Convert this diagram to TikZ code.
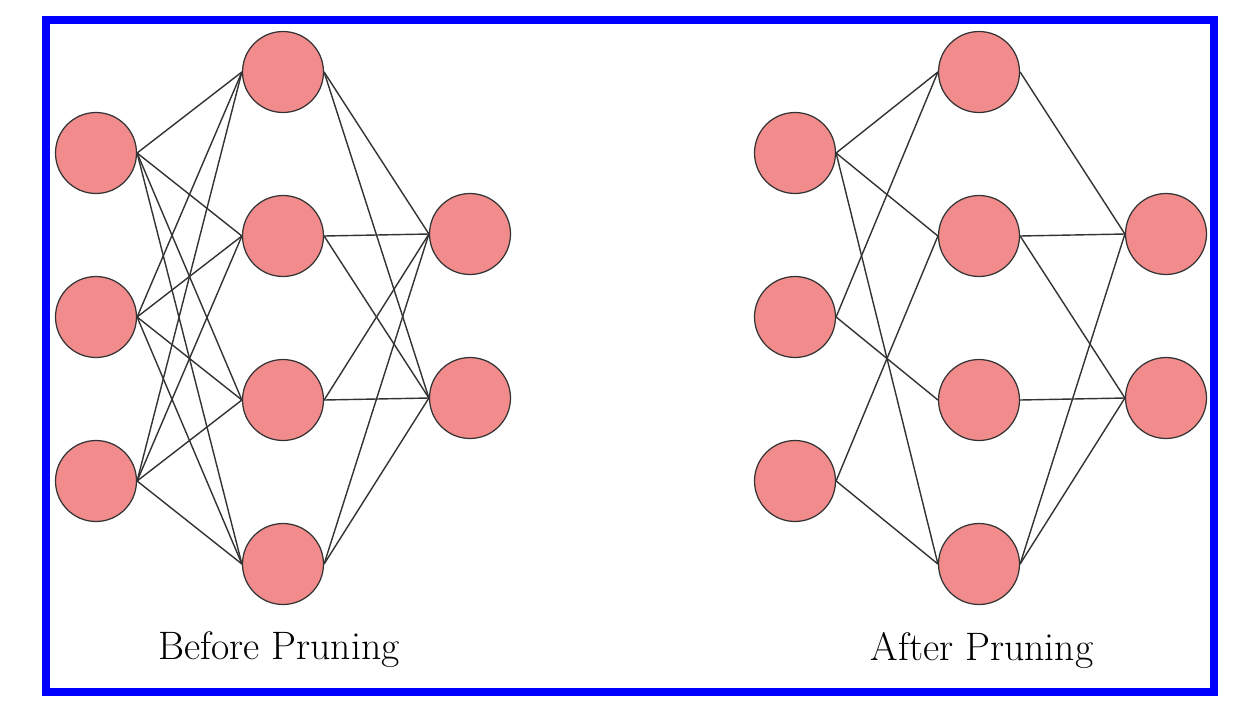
\documentclass[tikz,border=0pt]{standalone}
\definecolor{neuronpink}{RGB}{242,140,140}
\definecolor{frameblue}{RGB}{0,0,255}
\tikzset{
	neuron/.style={circle, draw=black!80, fill=neuronpink, line width=0.7pt, minimum size=1.62cm, inner sep=0pt},
	synapse/.style={draw=black!80, line width=0.8pt},
	caption/.style={anchor=base, font=\fontsize{22.6}{27}\selectfont}
}
\begin{document}
\begin{tikzpicture}[x=0.02cm,y=-0.02cm]
	\useasboundingbox (0,0) rectangle (1250,714);
	\draw[frameblue, line width=0.16cm] (46,20) rectangle (1214,692);
	
	% before pruning
	\foreach \i/\y in {1/153,2/317,3/481} \node[neuron] (bi\i) at (96,\y) {};
	\foreach \i/\y in {1/72,2/236,3/400,4/564} \node[neuron] (bh\i) at (283,\y) {};
	\foreach \i/\y in {1/234,2/398} \node[neuron] (bo\i) at (470,\y) {};
	\foreach \i in {1,2,3} \foreach \j in {1,...,4} \draw[synapse] (bi\i.east) -- (bh\j.west);
	\foreach \j in {1,...,4} \foreach \k in {1,2} \draw[synapse] (bh\j.east) -- (bo\k.west);
	\node[caption] (blabel) at (279,659) {Before Pruning};
	
	% after pruning
	\foreach \i/\y in {1/153,2/317,3/481} \node[neuron] (ai\i) at (795,\y) {};
	\foreach \i/\y in {1/72,2/236,3/400,4/564} \node[neuron] (ah\i) at (979,\y) {};
	\foreach \i/\y in {1/234,2/398} \node[neuron] (ao\i) at (1166,\y) {};
	\foreach \i/\j in {1/1,1/2,1/4,2/1,2/3,3/2,3/4} \draw[synapse] (ai\i.east) -- (ah\j.west);
	\foreach \j/\k in {1/1,2/1,2/2,3/2,4/1,4/2} \draw[synapse] (ah\j.east) -- (ao\k.west);
	\node[caption] (alabel) at (982,660) {After Pruning};
\end{tikzpicture}
\end{document}
